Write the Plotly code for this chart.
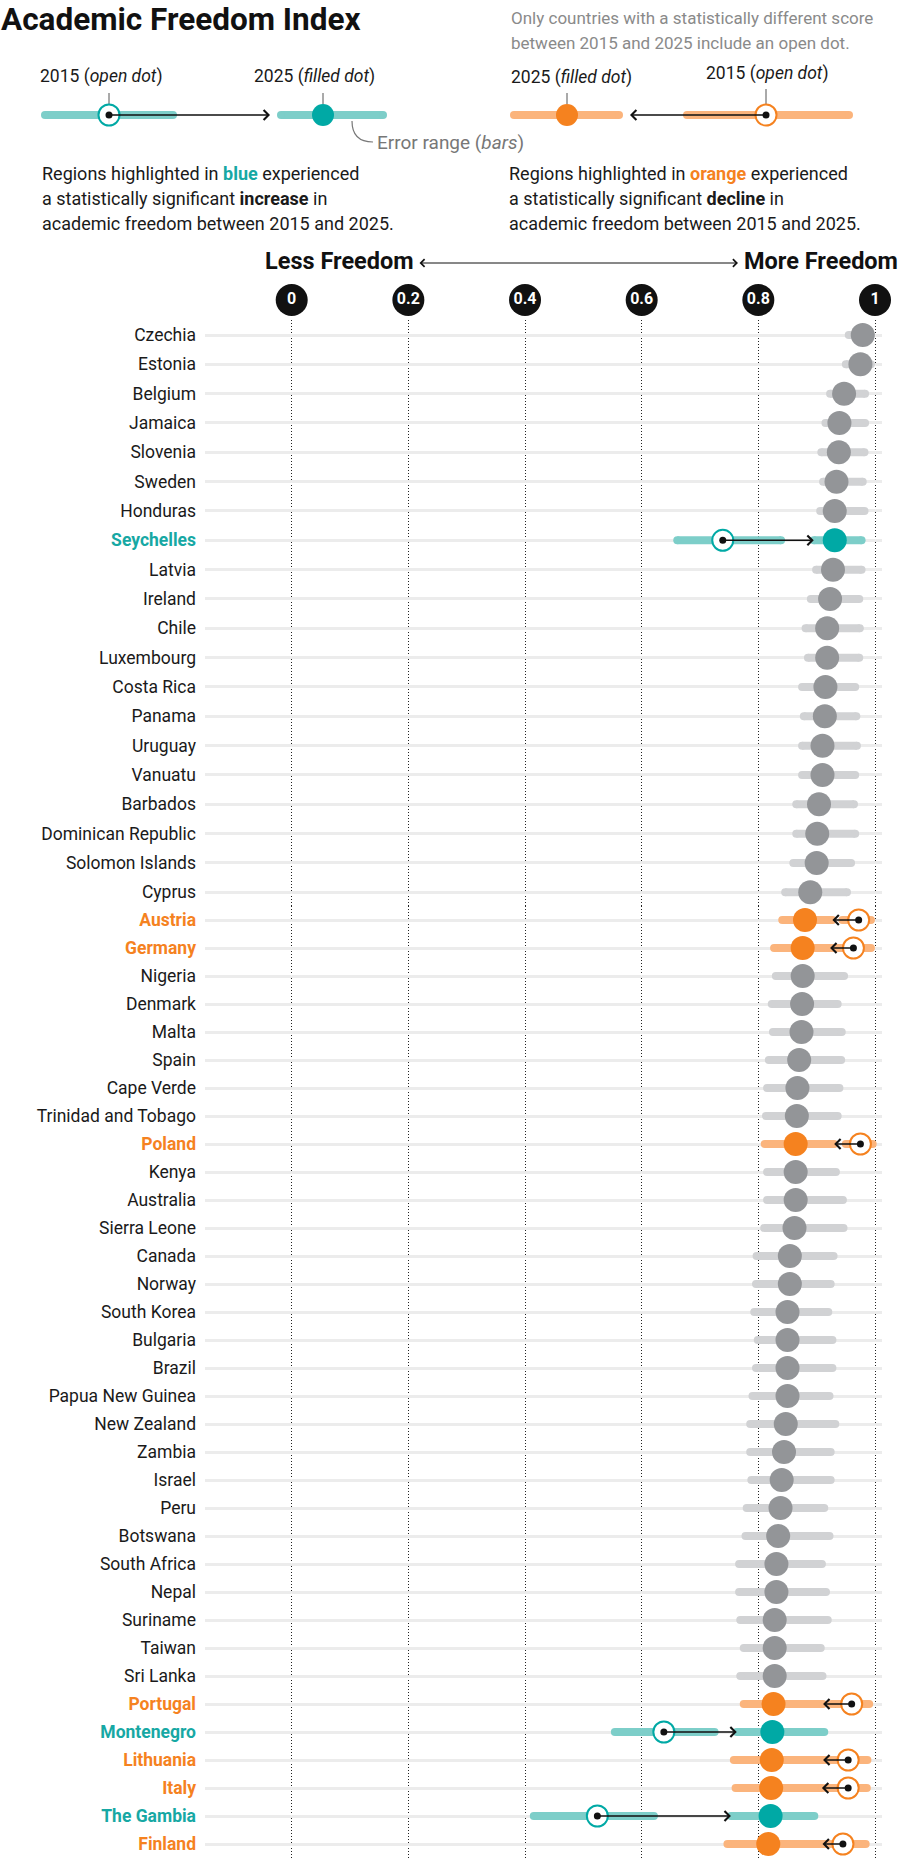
import plotly.graph_objects as go

# ---------------- data ----------------
countries = ["Czechia", "Estonia", "Belgium", "Jamaica", "Slovenia", "Sweden", "Honduras",
             "Seychelles", "Latvia", "Ireland", "Chile", "Luxembourg", "Costa Rica", "Panama",
             "Uruguay", "Vanuatu", "Barbados", "Dominican Republic", "Solomon Islands", "Cyprus",
             "Austria", "Germany", "Nigeria", "Denmark", "Malta", "Spain", "Cape Verde",
             "Trinidad and Tobago", "Poland", "Kenya", "Australia", "Sierra Leone", "Canada",
             "Norway", "South Korea", "Bulgaria", "Brazil", "Papua New Guinea", "New Zealand",
             "Zambia", "Israel", "Peru", "Botswana", "South Africa", "Nepal", "Suriname",
             "Taiwan", "Sri Lanka", "Portugal", "Montenegro", "Lithuania", "Italy",
             "The Gambia", "Finland"]

score_2025 = [0.979, 0.975, 0.947, 0.939, 0.938, 0.934, 0.931, 0.931, 0.928, 0.923,
              0.918, 0.918, 0.915, 0.914, 0.910, 0.910, 0.904, 0.901, 0.900, 0.889,
              0.880, 0.876, 0.876, 0.875, 0.874, 0.870, 0.867, 0.866, 0.864, 0.864,
              0.864, 0.862, 0.854, 0.854, 0.850, 0.850, 0.850, 0.850, 0.847, 0.844,
              0.840, 0.838, 0.834, 0.831, 0.831, 0.828, 0.828, 0.828, 0.826, 0.824,
              0.823, 0.822, 0.821, 0.817]

low_2025 = [0.955, 0.950, 0.923, 0.915, 0.908, 0.911, 0.906, 0.895, 0.899, 0.890,
            0.881, 0.885, 0.875, 0.878, 0.875, 0.875, 0.865, 0.865, 0.860, 0.846,
            0.841, 0.827, 0.830, 0.823, 0.825, 0.818, 0.815, 0.813, 0.811, 0.815,
            0.815, 0.810, 0.797, 0.796, 0.793, 0.799, 0.796, 0.790, 0.786, 0.786,
            0.788, 0.780, 0.778, 0.767, 0.767, 0.769, 0.775, 0.769, 0.775, 0.763,
            0.758, 0.761, 0.753, 0.747]

high_2025 = [0.993, 0.993, 0.983, 0.983, 0.982, 0.979, 0.982, 0.977, 0.977, 0.973,
             0.974, 0.973, 0.966, 0.968, 0.969, 0.966, 0.964, 0.966, 0.959, 0.952,
             0.927, 0.923, 0.947, 0.936, 0.943, 0.942, 0.939, 0.936, 0.930, 0.933,
             0.945, 0.946, 0.929, 0.924, 0.920, 0.927, 0.927, 0.922, 0.932, 0.924,
             0.924, 0.913, 0.922, 0.909, 0.916, 0.919, 0.907, 0.910, 0.911, 0.913,
             0.911, 0.909, 0.896, 0.910]

# change between 2015 and 2025: "up", "down" or "" (not significant)
status = [""] * 54
for name in ["Seychelles", "Montenegro", "The Gambia"]:
    status[countries.index(name)] = "up"
for name in ["Austria", "Germany", "Poland", "Portugal", "Lithuania", "Italy", "Finland"]:
    status[countries.index(name)] = "down"

score_2015_sig = {"Seychelles": 0.739, "Austria": 0.972, "Germany": 0.963, "Poland": 0.975,
                  "Portugal": 0.960, "Montenegro": 0.638, "Lithuania": 0.954, "Italy": 0.954,
                  "The Gambia": 0.524, "Finland": 0.945}
low_2015_sig = {"Seychelles": 0.661, "Austria": 0.944, "Germany": 0.928, "Poland": 0.950,
                "Portugal": 0.925, "Montenegro": 0.554, "Lithuania": 0.915, "Italy": 0.916,
                "The Gambia": 0.415, "Finland": 0.900}
high_2015_sig = {"Seychelles": 0.839, "Austria": 0.993, "Germany": 0.993, "Poland": 0.996,
                 "Portugal": 0.990, "Montenegro": 0.725, "Lithuania": 0.987, "Italy": 0.986,
                 "The Gambia": 0.621, "Finland": 0.984}

tick_vals = [0, 0.2, 0.4, 0.6, 0.8, 1]
tick_labels = ["0", "0.2", "0.4", "0.6", "0.8", "1"]

# ---------------- style ----------------
W, H = 900, 1859
FONT = "Roboto"
TEXT = "#1a1a1a"
GRAY_DOT, GRAY_BAR = "#939598", "#d1d2d4"
TEAL_DOT, TEAL_BAR, TEAL_TXT = "#00a9a5", "#7dcec9", "#17a8a4"
ORG_DOT, ORG_BAR, ORG_TXT = "#f5821f", "#fbb47c", "#f5821f"
ROWLINE = "#ececec"

X0_PX, X1_PX = 291.7, 875.0          # pixel position of value 0 and 1
PLOT_L, PLOT_R = 205, 882
xmin = (PLOT_L - X0_PX) / (X1_PX - X0_PX)
xmax = (PLOT_R - X0_PX) / (X1_PX - X0_PX)

def fy(px):
    return 1 - px / H

N_TOP = 20
# subplot A: rows 0..19, subplot B: rows 20..53
A_top, A_bot = 320.33, 906.97
B_top, B_bot = 906.0, 1858.0

fig = go.Figure()

def seg_xy(idx, lo, hi):
    xs, ys = [], []
    for i in idx:
        xs += [lo[i], hi[i], None]
        ys += [i, i, None]
    return xs, ys

def add_rows(xa, ya):
    idx_n = [i for i in range(54) if status[i] == ""]
    idx_u = [i for i in range(54) if status[i] == "up"]
    idx_d = [i for i in range(54) if status[i] == "down"]
    lo15 = {i: low_2015_sig[countries[i]] for i in idx_u + idx_d}
    hi15 = {i: high_2015_sig[countries[i]] for i in idx_u + idx_d}
    v15 = {i: score_2015_sig[countries[i]] for i in idx_u + idx_d}
    common = dict(xaxis=xa, yaxis=ya, showlegend=False, hoverinfo="skip")
    for idx, col in [(idx_n, GRAY_BAR), (idx_u, TEAL_BAR), (idx_d, ORG_BAR)]:
        xs, ys = seg_xy(idx, low_2025, high_2025)
        fig.add_trace(go.Scatter(x=xs, y=ys, mode="lines+markers",
                                 line=dict(color=col, width=8),
                                 marker=dict(color=col, size=8), **common))
    for idx, col in [(idx_u, TEAL_BAR), (idx_d, ORG_BAR)]:
        xs, ys = seg_xy(idx, lo15, hi15)
        fig.add_trace(go.Scatter(x=xs, y=ys, mode="lines+markers",
                                 line=dict(color=col, width=8),
                                 marker=dict(color=col, size=8), **common))
    for idx, col in [(idx_u, TEAL_DOT), (idx_d, ORG_DOT)]:
        fig.add_trace(go.Scatter(x=[v15[i] for i in idx], y=idx, mode="markers",
                                 marker=dict(color="white", size=21,
                                             line=dict(color=col, width=2)), **common))
    for idx, col in [(idx_n, GRAY_DOT), (idx_u, TEAL_DOT), (idx_d, ORG_DOT)]:
        fig.add_trace(go.Scatter(x=[score_2025[i] for i in idx], y=idx, mode="markers",
                                 marker=dict(color=col, size=24), **common))
    fig.add_trace(go.Scatter(x=[v15[i] for i in idx_u + idx_d], y=idx_u + idx_d,
                             mode="markers", marker=dict(color="#111", size=7), **common))

add_rows("x", "y")
add_rows("x2", "y2")

annotations = []
for i in range(54):
    if status[i] == "":
        continue
    xa, ya = ("x", "y") if i < N_TOP else ("x2", "y2")
    tip = low_2025[i] if status[i] == "up" else high_2025[i]
    annotations.append(dict(x=tip, y=i, ax=score_2015_sig[countries[i]], ay=i,
                            xref=xa, yref=ya, axref=xa, ayref=ya, text="",
                            showarrow=True, arrowhead=4, arrowsize=1.35,
                            arrowwidth=1.4, arrowcolor="#111", standoff=0))

# tick bubbles
fig.add_trace(go.Scatter(x=tick_vals, y=[0] * len(tick_vals), mode="markers+text",
                         text=["<b>%s</b>" % t for t in tick_labels],
                         textposition="middle center",
                         textfont=dict(family=FONT, size=16, color="white"),
                         marker=dict(color="#111", size=32), cliponaxis=False,
                         xaxis="x3", yaxis="y3", showlegend=False, hoverinfo="skip"))

# ---------------- legend key (pixel space overlay) ----------------
LY = 115
key = dict(xaxis="x4", yaxis="y4", showlegend=False, hoverinfo="skip")
fig.add_trace(go.Scatter(x=[45, 173, None, 281, 383], y=[LY, LY, None, LY, LY],
                         mode="lines+markers", line=dict(color=TEAL_BAR, width=8),
                         marker=dict(color=TEAL_BAR, size=8), **key))
fig.add_trace(go.Scatter(x=[514, 619, None, 687, 849], y=[LY, LY, None, LY, LY],
                         mode="lines+markers", line=dict(color=ORG_BAR, width=8),
                         marker=dict(color=ORG_BAR, size=8), **key))
fig.add_trace(go.Scatter(x=[109, 109, None, 323, 323, None, 567, 567, None, 766, 766],
                         y=[93, 104, None, 93, 104, None, 93, 104, None, 89, 104],
                         mode="lines", line=dict(color="#555", width=1), **key))
fig.add_trace(go.Scatter(x=[109], y=[LY], mode="markers",
                         marker=dict(color="white", size=21, line=dict(color=TEAL_DOT, width=2)), **key))
fig.add_trace(go.Scatter(x=[766], y=[LY], mode="markers",
                         marker=dict(color="white", size=21, line=dict(color=ORG_DOT, width=2)), **key))
fig.add_trace(go.Scatter(x=[323], y=[LY], mode="markers",
                         marker=dict(color=TEAL_DOT, size=22), **key))
fig.add_trace(go.Scatter(x=[567], y=[LY], mode="markers",
                         marker=dict(color=ORG_DOT, size=22), **key))
fig.add_trace(go.Scatter(x=[109, 766], y=[LY, LY], mode="markers",
                         marker=dict(color="#111", size=7), **key))

annotations.append(dict(x=270, y=LY, ax=109, ay=LY, xref="x4", yref="y4", axref="x4",
                        ayref="y4", text="", showarrow=True, arrowhead=4, arrowsize=1.35,
                        arrowwidth=1.4, arrowcolor="#111", standoff=0))
annotations.append(dict(x=630, y=LY, ax=766, ay=LY, xref="x4", yref="y4", axref="x4",
                        ayref="y4", text="", showarrow=True, arrowhead=4, arrowsize=1.35,
                        arrowwidth=1.4, arrowcolor="#111", standoff=0))
# less / more freedom arrow
annotations.append(dict(x=738, y=263, ax=418, ay=263, xref="x4", yref="y4", axref="x4",
                        ayref="y4", text="", showarrow=True, arrowhead=4, arrowsize=1.5,
                        arrowwidth=1, arrowside="end+start", startarrowhead=4,
                        startarrowsize=1.5, arrowcolor="#111", standoff=0, startstandoff=0))

def txt(x, y, s, size=17, color=TEXT, anchor="left", yanchor="middle"):
    annotations.append(dict(x=x, y=y, xref="x4", yref="y4", text=s, showarrow=False,
                            xanchor=anchor, yanchor=yanchor, borderpad=0,
                            font=dict(family=FONT, size=size, color=color)))

txt(0, 0, "<b>Academic Freedom Index</b>", size=31.5, color="#111", yanchor="top")
txt(510, 18, "Only countries with a statistically different score", color="#8a8a8a")
txt(510, 43, "between 2015 and 2025 include an open dot.", color="#8a8a8a")
txt(39, 76, "2015 (<i>open dot</i>)", size=17.5)
txt(253, 76, "2025 (<i>filled dot</i>)", size=17.5)
txt(510, 77, "2025 (<i>filled dot</i>)", size=17.5)
txt(705, 73, "2015 (<i>open dot</i>)", size=17.5)
txt(376, 142, "Error range (<i>bars</i>)", size=19, color="#777")
txt(41, 173, "Regions highlighted in <b><span style='color:%s'>blue</span></b> experienced" % TEAL_TXT, size=18)
txt(41, 198, "a statistically significant <b>increase</b> in", size=18)
txt(41, 223, "academic freedom between 2015 and 2025.", size=18)
txt(508, 173, "Regions highlighted in <b><span style='color:%s'>orange</span></b> experienced" % ORG_TXT, size=18)
txt(508, 198, "a statistically significant <b>decline</b> in", size=18)
txt(508, 223, "academic freedom between 2015 and 2025.", size=18)
txt(264, 261, "<b>Less Freedom</b>", size=23.5, color="#111")
txt(899, 261, "<b>More Freedom</b>", size=23.5, color="#111", anchor="right")

shapes = [dict(type="path", xref="x4", yref="y4", path="M352,121 Q352,142 373,142",
               line=dict(color="#777", width=1.2))]

# ---------------- tick labels ----------------
tick_text = []
for i, c in enumerate(countries):
    if status[i] == "up":
        tick_text.append("<b><span style='color:%s'>%s</span></b>" % (TEAL_TXT, c))
    elif status[i] == "down":
        tick_text.append("<b><span style='color:%s'>%s</span></b>" % (ORG_TXT, c))
    else:
        tick_text.append(c)

xcommon = dict(domain=[PLOT_L / W, PLOT_R / W], range=[xmin, xmax], tickvals=tick_vals,
               showticklabels=False, showgrid=True, gridcolor="#222", gridwidth=1,
               griddash="1px,2px", zeroline=False, showline=False, ticks="",
               fixedrange=True)
ycommon = dict(tickvals=list(range(54)), ticktext=tick_text, showgrid=True,
               gridcolor=ROWLINE, gridwidth=3, zeroline=False, showline=False, ticks="",
               ticklabelstandoff=8, tickfont=dict(family=FONT, size=17.5, color=TEXT),
               automargin=False, fixedrange=True)

fig.update_layout(
    width=W, height=H, template="none",
    margin=dict(l=0, r=0, t=0, b=0, pad=0),
    paper_bgcolor="white", plot_bgcolor="rgba(0,0,0,0)",
    font=dict(family=FONT, size=17, color=TEXT),
    showlegend=False,
    xaxis=dict(anchor="y", **xcommon),
    yaxis=dict(anchor="x", domain=[fy(A_bot), fy(A_top)], range=[N_TOP - 0.5, -0.5], **ycommon),
    xaxis2=dict(anchor="y2", **xcommon),
    yaxis2=dict(anchor="x2", domain=[fy(B_bot), fy(B_top)], range=[53.5, N_TOP - 0.5], **ycommon),
    xaxis3=dict(anchor="y3", domain=[PLOT_L / W, PLOT_R / W], range=[xmin, xmax],
                visible=False, fixedrange=True),
    yaxis3=dict(anchor="x3", domain=[fy(318), fy(282)], range=[-1, 1], visible=False,
                fixedrange=True),
    xaxis4=dict(anchor="y4", domain=[0, 1], range=[0, W], visible=False, fixedrange=True),
    yaxis4=dict(anchor="x4", domain=[0, 1], range=[H, 0], visible=False, fixedrange=True),
    annotations=annotations,
    shapes=shapes,
)

fig.write_html("out.html", config={"displayModeBar": False})
